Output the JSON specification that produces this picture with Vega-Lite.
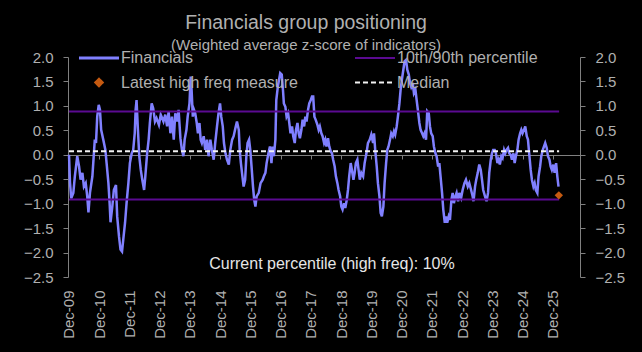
{
  "$schema": "https://vega.github.io/schema/vega-lite/v6.json",
  "width": 512,
  "height": 220,
  "autosize": {"type": "none"},
  "padding": {"left": 68, "top": 57, "right": 62, "bottom": 75},
  "background": "#000000",
  "title": {
    "text": "Financials group positioning",
    "subtitle": "(Weighted average z-score of indicators)",
    "anchor": "middle", "frame": "group", "dx": -18,
    "font": "Liberation Sans", "fontSize": 19.5, "fontWeight": "normal", "color": "#b0b0b0",
    "subtitleFont": "Liberation Sans", "subtitleFontSize": 15, "subtitleColor": "#b0b0b0",
    "subtitlePadding": 5, "offset": -4
  },
  "config": {
    "view": {"stroke": null},
    "font": "Liberation Sans",
    "axis": {"labelFont": "Liberation Sans", "labelFontSize": 15, "labelColor": "#b0b0b0", "domainColor": "#808080", "tickColor": "#808080", "grid": false, "labelOverlap": false, "labelSeparation": 0}
  },
  "datasets": {
    "financials": [
      {"t":2009.917,"v":0},{"t":2009.95,"v":-0.57},{"t":2009.99,"v":-0.89},{"t":2010.06,"v":-0.78},{"t":2010.11,"v":-0.44},{"t":2010.19,"v":-0.03},{"t":2010.25,"v":-0.24},{"t":2010.30,"v":-0.51},{"t":2010.36,"v":-0.37},{"t":2010.41,"v":-0.65},{"t":2010.47,"v":-0.58},{"t":2010.52,"v":-0.85},{"t":2010.56,"v":-1.18},{"t":2010.61,"v":-0.78},{"t":2010.69,"v":-0.44},{"t":2010.77,"v":0.31},{"t":2010.81,"v":0.24},{"t":2010.85,"v":0.78},{"t":2010.90,"v":1.02},{"t":2010.94,"v":0.92},{"t":2010.98,"v":0.51},{"t":2011.05,"v":0.31},{"t":2011.12,"v":0.10},{"t":2011.16,"v":-0.17},{"t":2011.22,"v":-0.58},{"t":2011.26,"v":-0.99},{"t":2011.29,"v":-1.38},{"t":2011.35,"v":-1.05},{"t":2011.40,"v":-0.72},{"t":2011.47,"v":-0.62},{"t":2011.51,"v":-1.26},{"t":2011.57,"v":-1.67},{"t":2011.62,"v":-1.94},{"t":2011.67,"v":-1.98},{"t":2011.71,"v":-1.74},{"t":2011.77,"v":-1.39},{"t":2011.82,"v":-0.99},{"t":2011.88,"v":-0.58},{"t":2011.93,"v":-0.17},{"t":2011.99,"v":0.03},{"t":2012.04,"v":0.10},{"t":2012.09,"v":0.44},{"t":2012.12,"v":0.92},{"t":2012.15,"v":1.12},{"t":2012.19,"v":0.58},{"t":2012.24,"v":-0.03},{"t":2012.29,"v":-0.31},{"t":2012.34,"v":-0.51},{"t":2012.40,"v":-0.72},{"t":2012.44,"v":-0.44},{"t":2012.50,"v":0.03},{"t":2012.55,"v":0.31},{"t":2012.59,"v":0.65},{"t":2012.65,"v":1.05},{"t":2012.70,"v":0.95},{"t":2012.76,"v":0.68},{"t":2012.81,"v":0.75},{"t":2012.89,"v":0.61},{"t":2012.95,"v":0.82},{"t":2013.04,"v":0.68},
      {"t":2013.10,"v":0.82},{"t":2013.16,"v":0.58},{"t":2013.21,"v":0.89},{"t":2013.27,"v":0.44},{"t":2013.32,"v":0.78},{"t":2013.38,"v":0.31},{"t":2013.43,"v":0.85},{"t":2013.49,"v":0.68},{"t":2013.54,"v":0.92},{"t":2013.60,"v":0.34},{"t":2013.65,"v":0.10},{"t":2013.70,"v":-0.03},{"t":2013.74,"v":0.31},{"t":2013.80,"v":0.51},{"t":2013.84,"v":0.78},{"t":2013.90,"v":1.05},{"t":2013.94,"v":1.60},{"t":2013.97,"v":1.33},{"t":2014.01,"v":0.78},{"t":2014.05,"v":0.92},{"t":2014.09,"v":0.85},{"t":2014.14,"v":0.65},{"t":2014.18,"v":0.44},{"t":2014.23,"v":0.65},{"t":2014.27,"v":0.31},{"t":2014.31,"v":0.24},{"t":2014.37,"v":0.38},{"t":2014.42,"v":0.10},{"t":2014.48,"v":0.31},{"t":2014.53,"v":-0.03},{"t":2014.59,"v":0.31},{"t":2014.64,"v":0.10},{"t":2014.70,"v":-0.10},{"t":2014.75,"v":0.24},{"t":2014.81,"v":0.58},{"t":2014.86,"v":0.85},{"t":2014.91,"v":1.05},{"t":2014.95,"v":0.78},{"t":2015.00,"v":0.58},{"t":2015.04,"v":0.24},{"t":2015.09,"v":0.03},{"t":2015.14,"v":-0.10},{"t":2015.20,"v":-0.20},{"t":2015.25,"v":0.10},{"t":2015.31,"v":0.31},{"t":2015.36,"v":0.38},{"t":2015.42,"v":0.55},{"t":2015.47,"v":0.68},{"t":2015.53,"v":0.51},{"t":2015.56,"v":0.10},{"t":2015.60,"v":-0.17},{"t":2015.65,"v":-0.44},{"t":2015.69,"v":-0.65},{"t":2015.74,"v":-0.51},{"t":2015.78,"v":-0.03},{"t":2015.82,"v":0.24},{"t":2015.87,"v":0.31},{"t":2015.91,"v":0.10},{"t":2015.96,"v":-0.31},{"t":2016.00,"v":-0.65},{"t":2016.04,"v":-0.92},{"t":2016.08,"v":-1.06},{"t":2016.12,"v":-0.85},{"t":2016.19,"v":-0.78},{"t":2016.25,"v":-0.58},
      {"t":2016.32,"v":-0.51},{"t":2016.36,"v":-0.44},{"t":2016.41,"v":-0.37},{"t":2016.45,"v":-0.17},{"t":2016.51,"v":0.03},{"t":2016.56,"v":0.17},{"t":2016.61,"v":-0.17},{"t":2016.65,"v":0.17},{"t":2016.69,"v":-0.03},{"t":2016.74,"v":0.31},{"t":2016.77,"v":1.12},{"t":2016.82,"v":1.39},{"t":2016.86,"v":1.53},{"t":2016.90,"v":1.67},{"t":2016.95,"v":1.64},{"t":2016.99,"v":1.33},{"t":2017.02,"v":1.05},{"t":2017.07,"v":0.98},{"t":2017.11,"v":0.78},{"t":2017.16,"v":0.85},{"t":2017.20,"v":0.65},{"t":2017.24,"v":0.44},{"t":2017.29,"v":0.58},{"t":2017.33,"v":0.38},{"t":2017.38,"v":0.24},{"t":2017.42,"v":0.51},{"t":2017.47,"v":0.65},{"t":2017.51,"v":0.44},{"t":2017.55,"v":0.34},{"t":2017.60,"v":0.51},{"t":2017.64,"v":0.72},{"t":2017.69,"v":0.58},{"t":2017.73,"v":0.78},{"t":2017.77,"v":0.68},{"t":2017.82,"v":0.92},{"t":2017.86,"v":1.05},{"t":2017.91,"v":1.12},{"t":2017.95,"v":1.19},{"t":2017.99,"v":1.19},{"t":2018.03,"v":0.78},{"t":2018.07,"v":0.72},{"t":2018.13,"v":0.61},{"t":2018.17,"v":0.51},{"t":2018.21,"v":0.58},{"t":2018.26,"v":0.44},{"t":2018.30,"v":0.38},{"t":2018.35,"v":0.24},{"t":2018.39,"v":0.31},{"t":2018.43,"v":0.17},{"t":2018.48,"v":0.34},{"t":2018.52,"v":0.17},{"t":2018.57,"v":0.07},{"t":2018.61,"v":0.03},{"t":2018.65,"v":-0.10},{"t":2018.70,"v":-0.24},{"t":2018.74,"v":-0.44},{"t":2018.79,"v":-0.58},{"t":2018.83,"v":-0.72},{"t":2018.88,"v":-0.85},{"t":2018.92,"v":-1.06},{"t":2018.96,"v":-1.12},{"t":2019.01,"v":-0.99},{"t":2019.05,"v":-1.09},{"t":2019.10,"v":-0.92},{"t":2019.14,"v":-0.72},{"t":2019.18,"v":-0.44},{"t":2019.23,"v":-0.17},{"t":2019.27,"v":-0.31},{"t":2019.32,"v":-0.51},{"t":2019.36,"v":-0.37},{"t":2019.40,"v":-0.17},{"t":2019.45,"v":-0.10},{"t":2019.49,"v":-0.31},
      {"t":2019.53,"v":-0.51},{"t":2019.58,"v":-0.37},{"t":2019.64,"v":-0.44},{"t":2019.69,"v":-0.17},{"t":2019.75,"v":0.03},{"t":2019.80,"v":0.24},{"t":2019.86,"v":0.31},{"t":2019.91,"v":0.41},{"t":2019.97,"v":0.24},{"t":2020.00,"v":0.44},{"t":2020.04,"v":0.10},{"t":2020.09,"v":-0.24},{"t":2020.13,"v":-0.58},{"t":2020.18,"v":-0.85},{"t":2020.22,"v":-1.19},{"t":2020.26,"v":-1.26},{"t":2020.31,"v":-1.06},{"t":2020.35,"v":-0.58},{"t":2020.40,"v":-0.17},{"t":2020.44,"v":0.10},{"t":2020.48,"v":0.17},{"t":2020.53,"v":0.31},{"t":2020.57,"v":0.44},{"t":2020.62,"v":0.38},{"t":2020.66,"v":0.48},{"t":2020.70,"v":0.41},{"t":2020.75,"v":0.58},{"t":2020.79,"v":0.78},{"t":2020.84,"v":1.05},{"t":2020.88,"v":1.33},{"t":2020.92,"v":1.53},{"t":2020.97,"v":1.74},{"t":2021.01,"v":1.91},{"t":2021.06,"v":1.94},{"t":2021.10,"v":1.74},{"t":2021.15,"v":1.64},{"t":2021.19,"v":1.47},{"t":2021.23,"v":1.39},{"t":2021.28,"v":1.47},{"t":2021.32,"v":1.26},{"t":2021.37,"v":1.33},{"t":2021.41,"v":1.12},{"t":2021.45,"v":0.92},{"t":2021.50,"v":0.65},{"t":2021.54,"v":0.51},{"t":2021.59,"v":0.44},{"t":2021.63,"v":0.38},{"t":2021.67,"v":0.44},{"t":2021.72,"v":0.31},{"t":2021.76,"v":0.89},{"t":2021.81,"v":0.85},{"t":2021.85,"v":0.58},{"t":2021.89,"v":0.44},{"t":2021.94,"v":0.38},{"t":2021.98,"v":0.17},{"t":2022.03,"v":0.03},{"t":2022.07,"v":-0.03},{"t":2022.12,"v":-0.24},{"t":2022.16,"v":-0.17},{"t":2022.20,"v":-0.44},{"t":2022.25,"v":-0.78},{"t":2022.29,"v":-1.12},{"t":2022.34,"v":-1.39},{"t":2022.38,"v":-1.26},{"t":2022.42,"v":-1.39},{"t":2022.47,"v":-1.26},{"t":2022.51,"v":-1.33},{"t":2022.56,"v":-0.92},{"t":2022.60,"v":-0.78},{"t":2022.64,"v":-0.99},{"t":2022.69,"v":-0.85},{"t":2022.73,"v":-0.78},{"t":2022.78,"v":-0.95},
      {"t":2022.82,"v":-0.78},{"t":2022.88,"v":-0.88},{"t":2022.93,"v":-0.72},{"t":2022.99,"v":-0.58},{"t":2023.04,"v":-0.51},{"t":2023.10,"v":-0.65},{"t":2023.15,"v":-0.58},{"t":2023.21,"v":-0.72},{"t":2023.26,"v":-0.85},{"t":2023.29,"v":-0.95},{"t":2023.34,"v":-0.65},{"t":2023.38,"v":-0.51},{"t":2023.43,"v":-0.37},{"t":2023.48,"v":-0.20},{"t":2023.53,"v":-0.31},{"t":2023.57,"v":-0.51},{"t":2023.61,"v":-0.72},{"t":2023.67,"v":-0.85},{"t":2023.72,"v":-0.95},{"t":2023.77,"v":-0.78},{"t":2023.81,"v":-0.37},{"t":2023.86,"v":-0.10},{"t":2023.90,"v":0.03},{"t":2023.94,"v":0.10},{"t":2023.99,"v":0.10},{"t":2024.03,"v":0.03},{"t":2024.08,"v":-0.17},{"t":2024.12,"v":-0.10},{"t":2024.16,"v":-0.20},{"t":2024.21,"v":-0.03},{"t":2024.25,"v":-0.07},{"t":2024.30,"v":0.10},{"t":2024.34,"v":0.03},{"t":2024.38,"v":0.10},{"t":2024.43,"v":0.14},{"t":2024.47,"v":0.03},{"t":2024.52,"v":0.00},{"t":2024.56,"v":-0.10},{"t":2024.61,"v":0.03},{"t":2024.65,"v":-0.17},{"t":2024.69,"v":-0.03},{"t":2024.74,"v":0.10},{"t":2024.78,"v":0.31},{"t":2024.83,"v":0.44},{"t":2024.87,"v":0.51},{"t":2024.91,"v":0.44},{"t":2024.96,"v":0.51},{"t":2025.00,"v":0.58},{"t":2025.05,"v":0.38},{"t":2025.09,"v":0.31},{"t":2025.13,"v":0.03},{"t":2025.18,"v":-0.31},{"t":2025.22,"v":-0.51},{"t":2025.27,"v":-0.65},{"t":2025.31,"v":-0.58},{"t":2025.35,"v":-0.72},{"t":2025.40,"v":-0.78},{"t":2025.44,"v":-0.44},{"t":2025.49,"v":-0.24},{"t":2025.53,"v":-0.03},{"t":2025.58,"v":0.10},{"t":2025.62,"v":0.17},{"t":2025.66,"v":0.24},{"t":2025.71,"v":0.14},{"t":2025.75,"v":-0.03},{"t":2025.80,"v":-0.10},{"t":2025.84,"v":-0.24},{"t":2025.88,"v":-0.31},{"t":2025.93,"v":-0.20},{"t":2025.97,"v":-0.37},{"t":2026.02,"v":-0.17},{"t":2026.06,"v":-0.44},{"t":2026.10,"v":-0.65}
    ],
    "bands": [
      {"t0":2009.917,"t1":2026.12,"v":0.885},
      {"t0":2009.917,"t1":2026.12,"v":-0.915}
    ],
    "median": [
      {"t0":2009.917,"t1":2026.12,"v":0.07}
    ],
    "latest": [
      {"t":2026.11,"v":-0.83}
    ]
  },
  "layer": [
    {
      "data": {"name": "financials"},
      "mark": {"type": "line", "strokeWidth": 2.5, "interpolate": "linear"},
      "encoding": {
        "x": {
          "field": "t", "type": "quantitative", "title": null,
          "scale": {"domain": [2009.884, 2026.81], "nice": false, "zero": false},
          "axis": {
            "orient": "bottom", "offset": -122, "tickCount": 40,
            "values": [2009.917,2010.917,2011.917,2012.917,2013.917,2014.917,2015.917,2016.917,2017.917,2018.917,2019.917,2020.917,2021.917,2022.917,2023.917,2024.917,2025.917],
            "labelExpr": "'Dec-' + format(floor(datum.value) % 100, '02d')",
            "labelAngle": -90, "labelPadding": 131, "tickSize": 4, "domainWidth": 1, "labelFlush": false, "labelOverlap": false, "labelSeparation": 0, "labelBound": false
          }
        },
        "y": {
          "field": "v", "type": "quantitative", "title": null,
          "scale": {"domain": [-2.5, 2.0], "nice": false, "zero": false},
          "axis": {"orient": "left", "tickCount": 20, "values": [-2.5,-2,-1.5,-1,-0.5,0,0.5,1,1.5,2], "format": ".1f", "tickSize": 5, "labelPadding": 10, "labelFlush": false, "labelOverlap": false}
        },
        "color": {
          "datum": "Financials", "type": "nominal",
          "scale": {
            "domain": ["Financials", "Latest high freq measure", "10th/90th percentile", "Median"],
            "range": ["#8080ff", "#c55a11", "#5b0a91", "#f2f2f2"]
          },
          "legend": {
            "orient": "none", "legendX": 13, "legendY": -7, "columns": 2, "title": null,
            "labelFont": "Liberation Sans", "labelFontSize": 16, "labelColor": "#b0b0b0",
            "labelLimit": 400, "symbolSize": 400, "labelOffset": 24, "columnPadding": 53, "rowPadding": 8.5,
            "symbolType": "M-1,0L3,0",
            "encode": {
              "symbols": {
                "update": {
                  "shape": {"signal": "datum.value === 'Latest high freq measure' ? 'M0.62,0L1,-0.38L1.38,0L1,0.38Z' : 'M-1,0L3,0'"},
                  "fill": {"signal": "datum.value === 'Latest high freq measure' ? '#c55a11' : 'transparent'"},
                  "stroke": {"signal": "datum.value === 'Financials' ? '#8080ff' : datum.value === '10th/90th percentile' ? '#5b0a91' : datum.value === 'Median' ? '#f2f2f2' : 'transparent'"},
                  "strokeWidth": {"signal": "datum.value === 'Financials' ? 3 : 2"},
                  "strokeDash": {"signal": "datum.value === 'Median' ? [5,3] : [1,0]"},
                  "opacity": {"value": 1}
                }
              }
            }
          }
        }
      }
    },
    {
      "data": {"name": "bands"},
      "mark": {"type": "rule", "strokeWidth": 2},
      "encoding": {
        "x": {"field": "t0", "type": "quantitative", "title": null},
        "x2": {"field": "t1"},
        "y": {"field": "v", "type": "quantitative", "title": null,
              "axis": {"orient": "right", "tickCount": 20, "values": [-2.5,-2,-1.5,-1,-0.5,0,0.5,1,1.5,2], "format": ".1f", "tickSize": 5, "labelPadding": 10, "labelFlush": false, "labelOverlap": false}},
        "color": {"datum": "10th/90th percentile", "type": "nominal"}
      }
    },
    {
      "data": {"name": "median"},
      "mark": {"type": "rule", "strokeWidth": 2, "strokeDash": [5, 3]},
      "encoding": {
        "x": {"field": "t0", "type": "quantitative", "title": null},
        "x2": {"field": "t1"},
        "y": {"field": "v", "type": "quantitative", "title": null, "axis": null},
        "color": {"datum": "Median", "type": "nominal"}
      }
    },
    {
      "data": {"name": "latest"},
      "mark": {"type": "point", "shape": "diamond", "filled": true, "size": 70, "opacity": 1},
      "encoding": {
        "x": {"field": "t", "type": "quantitative", "title": null},
        "y": {"field": "v", "type": "quantitative", "title": null, "axis": null},
        "color": {"datum": "Latest high freq measure", "type": "nominal"}
      }
    },
    {
      "data": {"values": [{}]},
      "mark": {"type": "text", "text": "Current percentile (high freq): 10%", "font": "Liberation Sans", "fontSize": 16, "color": "#e6e6e6", "align": "center", "baseline": "middle"},
      "encoding": {
        "x": {"datum": 2018.61, "type": "quantitative"},
        "y": {"datum": -2.23, "type": "quantitative", "axis": null}
      }
    }
  ],
  "resolve": {"axis": {"y": "independent"}}
}
